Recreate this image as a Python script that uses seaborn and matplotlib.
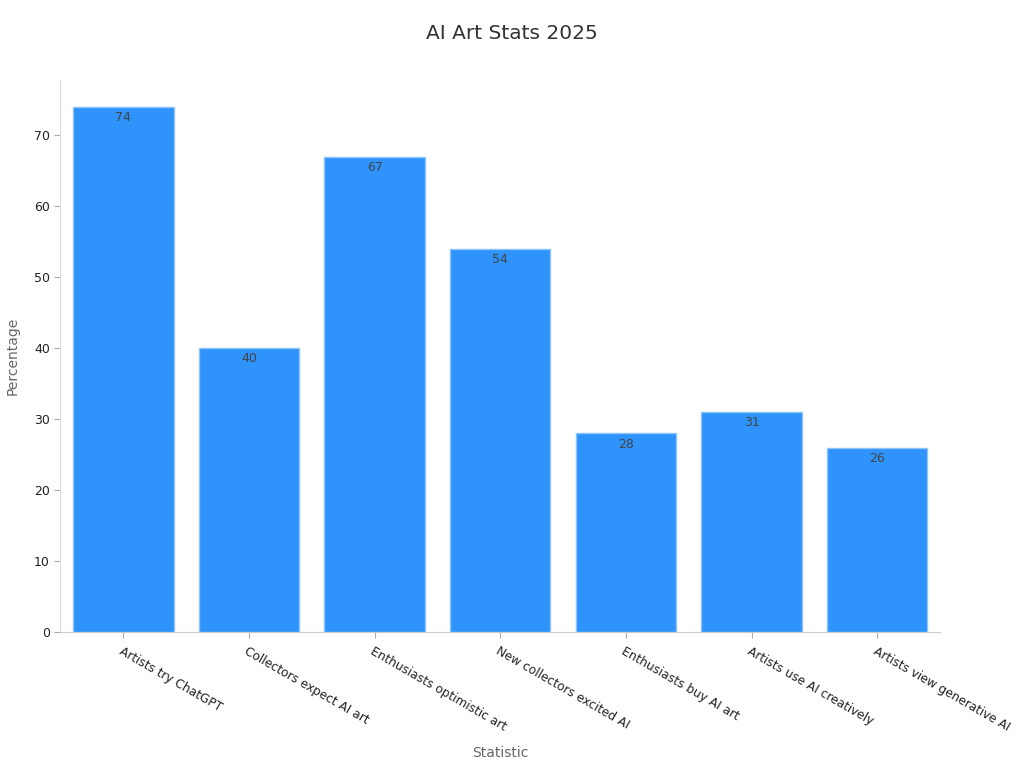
import numpy as np
import pandas as pd
import matplotlib
matplotlib.use('Agg')
import matplotlib.pyplot as plt
import seaborn as sns

statistics = ["Artists try ChatGPT", "Collectors expect AI art", "Enthusiasts optimistic art",
              "New collectors excited AI", "Enthusiasts buy AI art", "Artists use AI creatively",
              "Artists view generative AI"]
percentages = [74, 40, 67, 54, 28, 31, 26]

df = pd.DataFrame({"Statistic": statistics, "Percentage": percentages})

sns.set_style("white")
plt.rcParams['font.family'] = ['DejaVu Sans']

fig, ax = plt.subplots(figsize=(10.24, 7.68), dpi=100)
fig.subplots_adjust(left=0.059, right=0.918, top=0.896, bottom=0.177)

sns.barplot(data=df, x="Statistic", y="Percentage", color="#2E93FA", saturation=1,
            edgecolor="#8cc4fb", linewidth=1, width=0.8, ax=ax)

for i, v in enumerate(percentages):
    ax.text(i, v - 0.6, str(v), ha="center", va="top", fontsize=9, color="#444444")

ax.set_xlim(-0.5, 6.5)
ax.set_ylim(0, 77.8)
ax.set_yticks([0, 10, 20, 30, 40, 50, 60, 70])
fig.suptitle("AI Art Stats 2025", fontsize=14.5, color="#333333", x=0.5, y=0.957, va="center")
ax.set_xlabel("Statistic", fontsize=10, color="#666666", labelpad=9)
ax.set_ylabel("Percentage", fontsize=10, color="#666666", labelpad=10)
ax.set_xticks(range(len(statistics)))
ax.set_xticklabels(statistics, rotation=-30, ha="left", rotation_mode="anchor", fontsize=8.7, color="#222222")
ax.tick_params(axis="y", labelsize=9, colors="#222222")
ax.tick_params(axis="x", pad=5)
ax.tick_params(axis="both", length=4, color="#aaaaaa", bottom=True, left=True)

sns.despine(ax=ax)
ax.spines["left"].set_color("#dddddd")
ax.spines["bottom"].set_color("#cccccc")

fig.savefig("out.png", dpi=100)
